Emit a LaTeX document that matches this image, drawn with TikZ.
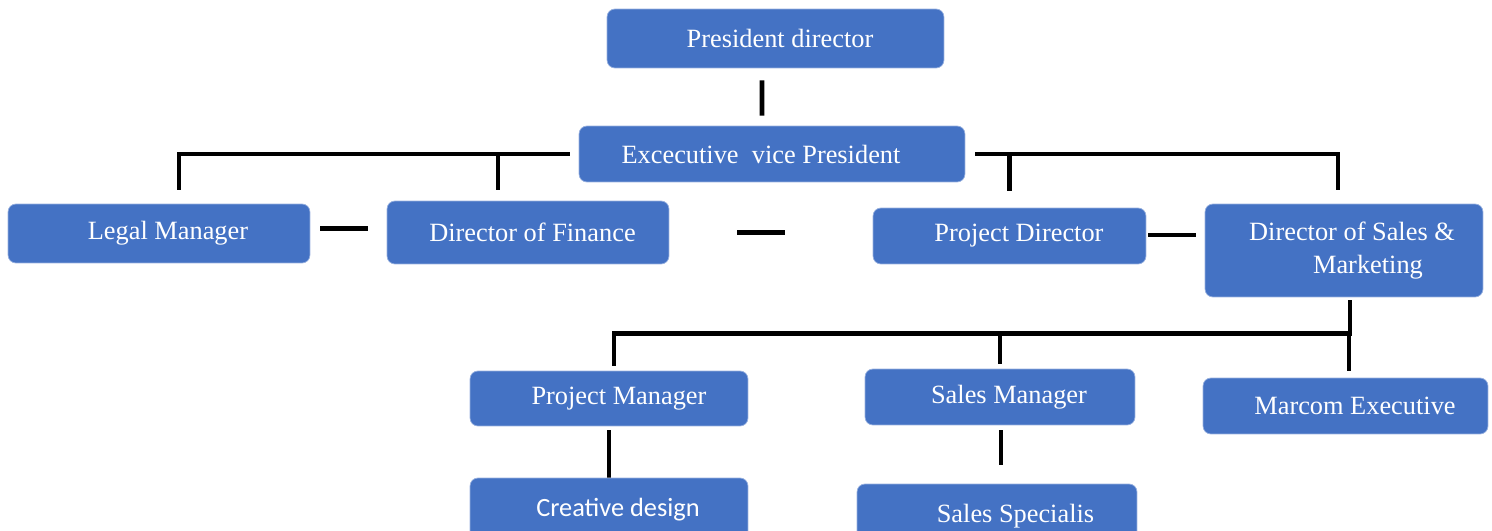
\documentclass[tikz,border=0pt]{standalone}
\usepackage{fontspec}
\setmainfont{Liberation Serif}
\newfontfamily\bodysans{Carlito}
\usepackage{tikz}
\usetikzlibrary{positioning}
\definecolor{orgblue}{RGB}{68,114,196}

\begin{document}
\begin{tikzpicture}[
      x=0.02cm, y=-0.02cm,
      unit/.style={rectangle, rounded corners=4.5pt, fill=orgblue,
                   draw=orgblue!55!white, line width=0.4pt, text=white,
                   inner sep=0pt, align=center,
                   font=\fontsize{15}{19}\selectfont},
      nudge/.style={execute at begin node={\hspace*{#1}}},
      link/.style={line width=2.8pt, color=black}
    ]
      \useasboundingbox (0,0) rectangle (1492,531);
      \clip (0,0) rectangle (1492,531);

      % top of the chart
      \node[unit, nudge=0.18cm, minimum width=6.74cm, minimum height=1.18cm] (pres) at (775.5,38.5) {President director};
      \node[unit, nudge=-0.44cm, minimum width=7.72cm, minimum height=1.12cm] (evp) at (772,154) {Excecutive~ vice President};

      % directors
      \node[unit, nudge=0.36cm, minimum width=6.04cm, minimum height=1.18cm] (legal) at (159,233.5) {Legal Manager};
      \node[unit, nudge=0.18cm, minimum width=5.64cm, minimum height=1.26cm] (fin) at (528,232.5) {Director of Finance};
      \node[unit, nudge=0.38cm, minimum width=5.46cm, minimum height=1.12cm] (projdir) at (1009.5,236) {Project Director};
      \node[unit, nudge=0.32cm, minimum width=5.56cm, minimum height=1.86cm] (sales) at (1344,250.5) {Director of Sales \&\\ \hspace*{0.64cm}Marketing};

      % sales & marketing team
      \node[unit, nudge=0.4cm, minimum width=5.56cm, minimum height=1.10cm] (pm) at (609,398.5) {Project Manager};
      \node[unit, nudge=0.36cm, minimum width=5.40cm, minimum height=1.12cm] (sm) at (1000,397) {Sales Manager};
      \node[unit, nudge=0.38cm, minimum width=5.70cm, minimum height=1.12cm] (marcom) at (1345.5,406) {Marcom Executive};
      \node[unit, nudge=0.36cm, minimum width=5.56cm, minimum height=1.28cm, font=\fontsize{15}{19}\bodysans] (creative) at (609,510) {Creative design};
      \node[unit, nudge=0.74cm, minimum width=5.60cm, minimum height=1.28cm] (spec) at (997,516) {Sales Specialis};

      % line ends
      \coordinate (pres-out) at ([xshift=-0.27cm,yshift=-0.24cm]pres.south);
      \coordinate (evp-in) at ([xshift=-0.2cm,yshift=0.2cm]evp.north);
      \coordinate (legal-in) at ([xshift=0.4cm,yshift=0.28cm]legal.north);
      \coordinate (fin-in) at ([xshift=-0.6cm,yshift=0.22cm]fin.north);
      \coordinate (pd-in) at ([yshift=0.34cm]projdir.north);
      \coordinate (sales-in) at ([xshift=-0.12cm,yshift=0.28cm]sales.north);
      \coordinate (sales-out) at ([xshift=0.12cm,yshift=-0.06cm]sales.south);
      \coordinate (bus) at ([yshift=-0.66cm]sales-out);
      \coordinate (pm-in) at ([xshift=0.1cm,yshift=0.1cm]pm.north);
      \coordinate (sm-in) at ([yshift=0.1cm]sm.north);
      \coordinate (mc-in) at ([xshift=0.07cm,yshift=0.14cm]marcom.north);
      \coordinate (spec-in) at ([yshift=0.38cm]spec.north);
      \coordinate (lf-dash) at ([xshift=0.2cm,yshift=0.1cm]legal.east);
      \coordinate (mid-dash) at ([xshift=1.36cm]fin.east);
      \coordinate (ps-dash) at ([xshift=0.04cm,yshift=0.02cm]projdir.east);

      \draw[link] (pres-out) -- (evp-in);

      % branches off the vice president
      \draw[link] ([xshift=-0.18cm]evp.west) -- (legal-in |- evp.west) -- (legal-in);
      \draw[link] (fin-in |- evp.west) -- (fin-in);
      \draw[link] ([xshift=0.2cm]evp.east) -- (sales-in |- evp.east) -- (sales-in);
      \draw[link] (pd-in |- evp.east) -- (pd-in);

      % short dashes between the directors
      \draw[link] (lf-dash) -- ([xshift=-0.38cm]fin.west |- lf-dash);
      \draw[link] (mid-dash) -- ([xshift=-1.76cm]projdir.west |- mid-dash);
      \draw[link] (ps-dash) -- ([xshift=-0.18cm]sales.west |- ps-dash);

      % sales & marketing branches
      \draw[link] (sales-out) -- (bus) -- (pm-in |- bus) -- (pm-in);
      \draw[link] (sm-in |- bus) -- (sm-in);
      \draw[link] (mc-in |- bus) -- (mc-in);
      \draw[link] ([yshift=-0.08cm]pm.south) -- (pm.south |- creative.north) -- ([yshift=0.26cm]creative.north);
      \draw[link] ([xshift=0.02cm,yshift=-0.1cm]sm.south) -- ([xshift=0.02cm]sm.south |- spec-in);
    \end{tikzpicture}
\end{document}
